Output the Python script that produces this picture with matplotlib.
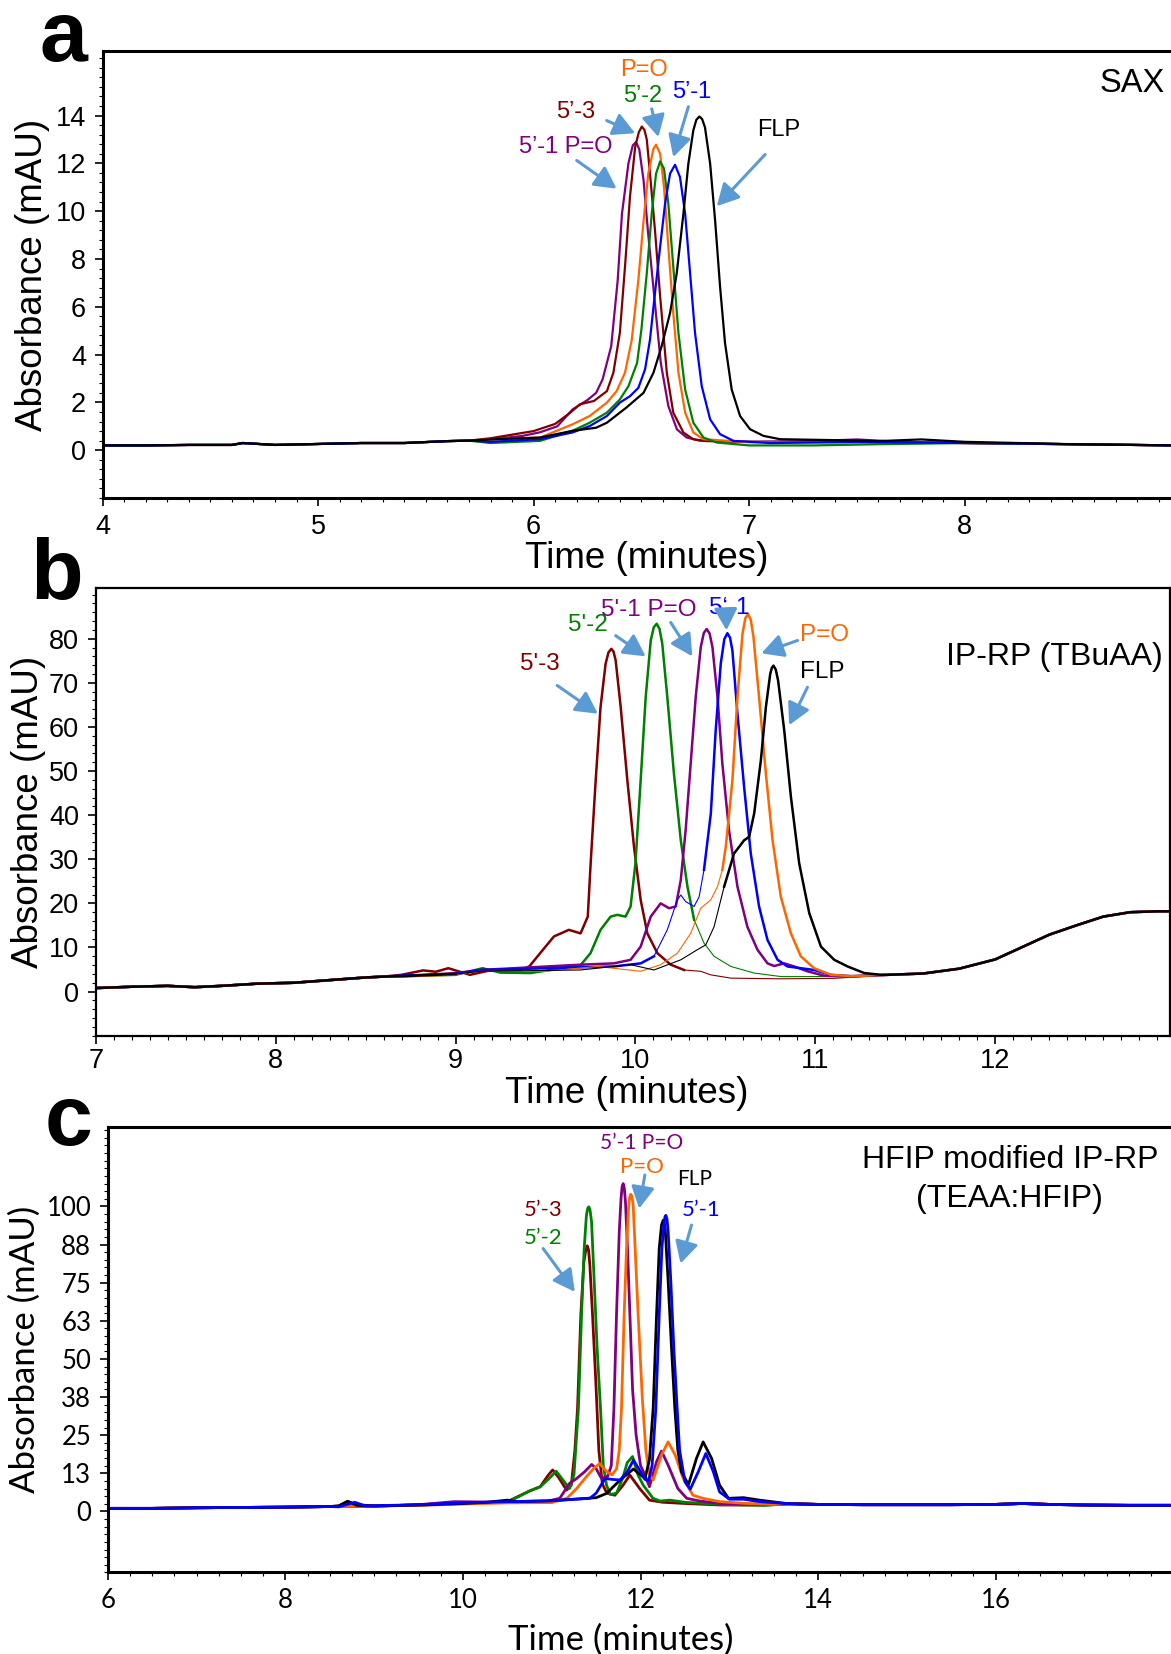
import numpy as np
import matplotlib
matplotlib.use("Agg")
import matplotlib.pyplot as plt
from matplotlib.ticker import MultipleLocator, FixedLocator, FixedFormatter

plt.rcParams['font.family'] = ['Liberation Sans', 'DejaVu Sans']

# colours of the six samples
c_red = '#800000'
c_pur = '#800080'
c_ora = '#FF6600'
c_grn = '#008000'
c_blu = '#0000FF'
c_blk = '#000000'
c_arrow = '#5B9BD5'

# ---------------- panel a : SAX ----------------
sax_base_t = [4.0, 4.2, 4.4, 4.6, 4.65, 4.8, 5.0, 5.2, 5.4, 5.6, 5.7]
sax_base = [0.2, 0.2, 0.22, 0.22, 0.3, 0.22, 0.26, 0.3, 0.3, 0.38, 0.4]

sax_pur_t = [5.80, 5.95, 6.03, 6.11, 6.18, 6.25, 6.29, 6.32, 6.36, 6.39, 6.41, 6.44, 6.46, 6.475, 6.49,
             6.51, 6.53, 6.56, 6.59, 6.625, 6.665, 6.71, 6.77, 7.0, 7.3, 7.5, 7.7, 8.0, 8.5, 8.98]
sax_pur = [0.45, 0.6, 0.75, 1.0, 1.7, 2.1, 2.4, 2.96, 4.35, 7.1, 9.9, 12.0, 12.75, 12.89, 12.6,
           11.3, 9.2, 6.4, 3.65, 1.85, 0.87, 0.53, 0.4, 0.35, 0.38, 0.45, 0.35, 0.3, 0.25, 0.2]

sax_red_t = [5.80, 5.90, 6.00, 6.10, 6.17, 6.215, 6.28, 6.34, 6.37, 6.40, 6.425, 6.447, 6.471, 6.488, 6.502,
             6.514, 6.525, 6.54, 6.563, 6.587, 6.618, 6.648, 6.695, 6.74, 6.8, 7.0, 7.5, 8.0, 8.5, 8.98]
sax_red = [0.5, 0.65, 0.8, 1.1, 1.57, 1.92, 2.06, 2.47, 3.24, 4.9, 7.8, 10.6, 12.68, 13.3, 13.54,
           13.4, 13.0, 11.57, 9.21, 6.43, 3.24, 1.57, 0.74, 0.46, 0.38, 0.35, 0.35, 0.3, 0.25, 0.2]

sax_ora_t = [5.80, 5.95, 6.03, 6.18, 6.26, 6.34, 6.385, 6.424, 6.455, 6.486, 6.509, 6.532, 6.556, 6.568,
             6.587, 6.605, 6.625, 6.648, 6.672, 6.703, 6.741, 6.788, 7.0, 7.5, 8.0, 8.5, 8.98]
sax_ora = [0.45, 0.5, 0.53, 1.08, 1.43, 1.99, 2.47, 3.24, 4.6, 7.12, 9.49, 11.57, 12.61, 12.78,
           12.4, 11.0, 8.51, 5.74, 3.24, 1.57, 0.74, 0.46, 0.33, 0.32, 0.3, 0.25, 0.2]

sax_grn_t = [5.80, 6.03, 6.18, 6.26, 6.34, 6.40, 6.44, 6.48, 6.50, 6.525, 6.548, 6.568, 6.587, 6.605,
             6.625, 6.648, 6.672, 6.703, 6.741, 6.788, 6.85, 7.0, 7.3, 7.6, 8.0, 8.5, 8.98]
sax_grn = [0.3, 0.39, 0.81, 1.15, 1.57, 2.12, 2.68, 3.65, 5.04, 7.40, 9.90, 11.57, 12.08, 11.78,
           10.32, 7.68, 4.90, 2.54, 1.15, 0.53, 0.32, 0.2, 0.2, 0.25, 0.3, 0.25, 0.2]

sax_blu_t = [5.80, 6.03, 6.18, 6.26, 6.34, 6.40, 6.447, 6.486, 6.517, 6.540, 6.563, 6.587, 6.610, 6.633,
             6.656, 6.679, 6.703, 6.726, 6.749, 6.780, 6.819, 6.865, 6.927, 7.1, 7.5, 8.0, 8.5, 8.98]
sax_blu = [0.35, 0.46, 0.74, 1.01, 1.43, 1.99, 2.26, 2.61, 3.38, 4.63, 6.57, 8.51, 10.32, 11.57,
           11.94, 11.43, 9.90, 7.40, 4.90, 2.68, 1.29, 0.67, 0.39, 0.3, 0.35, 0.3, 0.25, 0.2]

sax_blk_t = [5.80, 6.03, 6.18, 6.29, 6.34, 6.43, 6.51, 6.556, 6.594, 6.633, 6.664, 6.695, 6.718, 6.741,
             6.755, 6.769, 6.782, 6.795, 6.819, 6.842, 6.865, 6.888, 6.919, 6.958, 7.004, 7.066, 7.143,
             7.4, 7.6, 7.8, 8.0, 8.5, 8.98]
sax_blk = [0.45, 0.53, 0.81, 0.94, 1.15, 1.78, 2.40, 3.24, 4.35, 5.74, 7.40, 9.90, 11.99, 13.38,
           13.82, 13.96, 13.85, 13.51, 11.99, 9.62, 6.85, 4.49, 2.54, 1.43, 0.88, 0.60, 0.46,
           0.42, 0.38, 0.45, 0.35, 0.25, 0.2]

# ---------------- panel b : IP-RP (TBuAA) ----------------
ipr_base_t = [7.0, 7.2, 7.4, 7.55, 7.7, 7.9, 8.1, 8.3, 8.5, 8.6]
ipr_base = [0.8, 1.1, 1.3, 1.0, 1.3, 1.8, 2.0, 2.6, 3.2, 3.4]

ipr_tail_t = [11.4, 11.6, 11.8, 12.0, 12.15, 12.3, 12.45, 12.6, 12.75, 12.9, 12.97]
ipr_tail = [3.8, 4.1, 5.2, 7.3, 10.1, 12.9, 15.0, 17.0, 18.0, 18.2, 18.2]

ipr_red_t = [8.7, 8.82, 8.89, 8.96, 9.08, 9.19, 9.36, 9.41, 9.47, 9.547, 9.63, 9.695, 9.735, 9.751,
             9.779, 9.806, 9.834, 9.85, 9.866, 9.878, 9.890, 9.918, 9.955, 9.992, 10.029, 10.066, 10.122,
             10.196, 10.270, 10.363, 10.418, 10.53, 10.8, 11.1, 11.3]
ipr_red = [3.8, 4.8, 4.5, 5.3, 3.8, 4.8, 4.9, 5.7, 8.7, 12.5, 14.0, 13.2, 17.0, 29.1,
           47.9, 64.5, 74.3, 76.9, 77.7, 77.1, 75.1, 64.5, 47.9, 32.8, 20.8, 13.2, 8.7,
           6.1, 4.9, 4.6, 3.8, 3.05, 2.9, 3.0, 3.5]

ipr_grn_t = [8.7, 9.0, 9.15, 9.25, 9.417, 9.62, 9.695, 9.75, 9.806, 9.862, 9.899, 9.945, 9.973, 10.0,
             10.029, 10.057, 10.085, 10.102, 10.118, 10.134, 10.149, 10.177, 10.214, 10.252, 10.289,
             10.326, 10.381, 10.437, 10.53, 10.66, 10.81, 10.99, 11.2]
ipr_grn = [3.5, 3.8, 5.3, 4.3, 4.2, 5.5, 6.0, 8.7, 14.0, 17.0, 17.4, 17.0, 19.3, 29.1,
           47.9, 66.8, 79.6, 82.6, 83.4, 82.2, 78.9, 66.8, 49.4, 34.3, 23.8,
           16.3, 11.0, 8.0, 5.7, 4.2, 3.4, 3.4, 3.5]

ipr_pur_t = [8.7, 9.0, 9.139, 9.51, 9.695, 9.88, 9.973, 10.029, 10.085, 10.14, 10.187, 10.224, 10.252,
             10.279, 10.307, 10.335, 10.363, 10.38, 10.396, 10.412, 10.428, 10.456, 10.483, 10.52,
             10.567, 10.622, 10.678, 10.734, 10.771, 10.827, 10.882, 10.956, 11.049, 11.179, 11.3]
ipr_pur = [3.5, 4.2, 4.9, 5.7, 6.1, 6.4, 7.2, 10.2, 17.0, 20.0, 18.9, 19.3, 25.3,
           36.6, 51.7, 66.8, 78.1, 81.3, 82.2, 81.2, 78.1, 66.8, 51.7, 36.6,
           23.8, 14.7, 9.5, 6.4, 5.8, 6.4, 5.7, 4.6, 3.6, 3.4, 3.6]

ipr_blu_t = [8.7, 9.0, 9.139, 9.88, 10.029, 10.103, 10.177, 10.233, 10.252, 10.279, 10.326, 10.354,
             10.381, 10.419, 10.446, 10.474, 10.494, 10.511, 10.526, 10.539, 10.567, 10.604, 10.641,
             10.687, 10.734, 10.79, 10.845, 10.919, 10.993, 11.086, 11.2]
ipr_blu = [3.6, 4.0, 4.9, 5.7, 6.4, 8.0, 14.0, 20.8, 21.9, 20.4, 19.3, 21.5,
           27.6, 40.4, 59.2, 74.3, 79.9, 81.25, 80.2, 77.3, 63.0, 46.4, 31.3,
           19.3, 11.7, 7.2, 5.7, 5.3, 4.9, 3.8, 3.5]

ipr_ora_t = [8.7, 9.0, 9.139, 9.5, 9.788, 10.029, 10.14, 10.233, 10.307, 10.363, 10.419, 10.456, 10.483,
             10.502, 10.539, 10.567, 10.595, 10.611, 10.626, 10.641, 10.656, 10.687, 10.725, 10.762,
             10.808, 10.864, 10.919, 10.993, 11.086, 11.2]
ipr_ora = [3.4, 3.9, 4.6, 4.6, 5.7, 4.6, 6.1, 8.7, 13.2, 18.9, 20.8, 23.8, 27.6,
           32.8, 47.9, 66.8, 81.1, 84.7, 85.6, 84.3, 80.4, 66.8, 49.4, 34.3,
           21.5, 13.2, 8.0, 5.3, 3.8, 3.5]

ipr_blk_t = [8.7, 9.0, 9.139, 9.695, 9.973, 10.103, 10.252, 10.344, 10.391, 10.437, 10.493, 10.548,
             10.604, 10.632, 10.66, 10.697, 10.725, 10.749, 10.758, 10.767, 10.78, 10.793, 10.827,
             10.864, 10.91, 10.966, 11.031, 11.105, 11.179, 11.272, 11.365]
ipr_blk = [3.5, 4.0, 4.6, 4.9, 6.1, 4.9, 7.2, 9.5, 10.6, 14.7, 23.8, 31.3,
           34.3, 35.1, 40.4, 52.4, 64.5, 72.0, 73.4, 73.9, 73.0, 70.5, 59.2,
           44.2, 29.1, 17.8, 10.2, 7.2, 5.7, 4.2, 3.8]

# ---------------- panel c : HFIP modified IP-RP ----------------
hfip_base_t = [6.0, 6.5, 7.0, 7.5, 8.0, 8.5]
hfip_base = [1.0, 1.0, 1.2, 1.3, 1.4, 1.6]

hfip_tail_t = [13.7, 14.0, 14.5, 15.0, 15.5, 16.0, 16.3, 16.6, 17.0, 17.5, 18.02]
hfip_tail = [2.5, 2.3, 2.2, 2.2, 2.2, 2.3, 2.6, 2.3, 2.1, 2.0, 2.0]

hfip_red_t = [8.6, 8.7, 8.8, 9.0, 9.5, 10.0, 10.5, 10.75, 10.87, 10.96, 11.01, 11.08, 11.167, 11.22,
              11.26, 11.29, 11.327, 11.361, 11.385, 11.399, 11.414, 11.429, 11.459, 11.496, 11.53,
              11.57, 11.62, 11.711, 11.80, 11.88, 11.99, 12.10, 12.25, 12.5, 12.9, 13.4]
hfip_red = [1.8, 3.3, 2.2, 1.8, 2.0, 2.6, 3.2, 6.7, 8.1, 11.9, 13.6, 11.0, 7.0, 8.6,
            20.0, 33.8, 64.4, 81.8, 86.0, 87.1, 85.8, 80.7, 64.4, 42.5, 20.0,
            9.0, 6.0, 5.3, 8.5, 11.9, 7.5, 3.7, 3.0, 2.6, 2.1, 2.1]

hfip_grn_t = [8.6, 8.8, 9.0, 9.5, 10.0, 10.5, 10.75, 10.87, 10.96, 11.05, 11.12, 11.20, 11.25, 11.30,
              11.335, 11.365, 11.39, 11.405, 11.417, 11.43, 11.448, 11.478, 11.511, 11.549, 11.58,
              11.617, 11.66, 11.73, 11.80, 11.85, 11.91, 11.97, 12.03, 12.14, 12.22, 12.33, 12.5,
              12.9, 13.4]
hfip_grn = [1.6, 1.7, 1.7, 2.2, 2.7, 3.0, 6.7, 8.1, 10.5, 13.2, 10.5, 7.5, 12.0, 33.8,
            64.4, 86.2, 97.1, 99.4, 99.9, 99.0, 95.0, 75.3, 53.4, 33.8, 15.2,
            8.6, 5.5, 6.0, 11.0, 16.0, 18.0, 12.0, 8.6, 4.3, 3.4, 3.7, 3.0,
            2.3, 2.0]

hfip_pur_t = [8.6, 9.0, 9.5, 9.9, 10.5, 10.9, 11.09, 11.20, 11.28, 11.37, 11.45, 11.50, 11.56, 11.63,
              11.67, 11.70, 11.729, 11.76, 11.78, 11.792, 11.804, 11.817, 11.83, 11.853, 11.88, 11.91,
              11.95, 12.0, 12.05, 12.10, 12.18, 12.236, 12.31, 12.42, 12.52, 12.67, 12.9, 13.4]
hfip_pur = [1.6, 1.7, 2.2, 3.2, 3.0, 3.0, 4.3, 9.2, 10.8, 13.0, 15.4, 14.0, 10.8, 11.5,
            15.0, 33.8, 64.4, 91.7, 102.6, 106.5, 107.5, 106.0, 101.5, 86.2, 64.4, 40.0,
            25.0, 15.0, 11.9, 8.1, 16.3, 19.8, 15.2, 7.5, 4.3, 3.4, 2.6, 2.2]

hfip_ora_t = [8.6, 9.0, 9.5, 10.0, 10.5, 11.0, 11.17, 11.28, 11.39, 11.47, 11.54, 11.62, 11.68, 11.73,
              11.76, 11.785, 11.815, 11.842, 11.864, 11.877, 11.89, 11.903, 11.917, 11.939, 11.973,
              12.02, 12.06, 12.10, 12.142, 12.236, 12.31, 12.39, 12.48, 12.59, 12.70, 12.89, 13.2, 13.5]
hfip_ora = [1.6, 1.8, 2.0, 2.4, 2.8, 2.9, 4.3, 7.5, 11.4, 14.0, 15.7, 13.0, 12.0, 14.0,
            20.0, 33.8, 64.4, 86.2, 99.3, 103.0, 104.0, 103.2, 100.4, 86.2, 64.4,
            37.0, 20.0, 12.0, 10.3, 18.5, 22.8, 18.5, 10.8, 5.3, 4.3, 3.2, 2.6, 2.3]

hfip_blu_t = [8.6, 8.78, 8.9, 9.5, 10.0, 10.5, 11.0, 11.43, 11.50, 11.60, 11.68, 11.77, 11.85, 11.92,
              11.98, 12.05, 12.09, 12.13, 12.172, 12.21, 12.24, 12.266, 12.275, 12.285, 12.298,
              12.311, 12.341, 12.375, 12.412, 12.44, 12.50, 12.56, 12.65, 12.735, 12.82, 12.89, 13.0,
              13.16, 13.34, 13.64]
hfip_blu = [1.5, 3.0, 1.8, 2.2, 2.8, 3.2, 3.5, 4.3, 6.0, 10.8, 10.5, 10.3, 13.0, 16.8,
            14.0, 10.5, 10.0, 15.0, 33.8, 64.4, 86.2, 95.0, 96.6, 97.1, 95.8,
            91.7, 75.3, 53.4, 33.8, 20.0, 9.7, 7.3, 13.0, 19.0, 13.0, 6.4, 4.0,
            4.0, 3.2, 2.6]

hfip_blk_t = [8.6, 8.7, 8.8, 9.0, 9.5, 10.0, 10.27, 10.5, 10.6, 11.0, 11.5, 11.617, 11.77, 11.92, 12.05,
              12.10, 12.142, 12.18, 12.21, 12.236, 12.255, 12.266, 12.277, 12.311, 12.349, 12.386,
              12.42, 12.46, 12.54, 12.63, 12.705, 12.80, 12.89, 12.99, 13.16, 13.34, 13.64]
hfip_blk = [1.8, 3.3, 2.0, 1.8, 2.1, 2.6, 3.0, 3.7, 3.2, 3.5, 4.5, 5.9, 10.3, 13.9, 10.8,
            17.0, 33.8, 64.4, 86.2, 93.9, 95.5, 94.8, 92.8, 75.3, 53.4, 33.8,
            20.0, 13.0, 8.8, 17.4, 22.8, 17.4, 8.6, 4.3, 4.5, 3.7, 2.6]

hfip_xticks = [6, 8, 10, 12, 14, 16]
hfip_yticks = [0, 12.5, 25, 37.5, 50, 62.5, 75, 87.5, 100]
hfip_ylabels = ['0', '13', '25', '38', '50', '63', '75', '88', '100']

W, H = 1171, 1654
fig = plt.figure(figsize=(W / 100, H / 100), dpi=100)


def box(left, top, right, bottom):
    return [left / W, 1 - bottom / H, (right - left) / W, (bottom - top) / H]


def join(bt, by, t, y, tt=None, ty=None):
    t = list(bt) + list(t) + (list(tt) if tt else [])
    y = list(by) + list(y) + (list(ty) if ty else [])
    return np.array(t), np.array(y)


def arrow(ax, tail, tip):
    ax.annotate('', xy=tip, xytext=tail,
                arrowprops=dict(arrowstyle='-|>,head_length=0.6,head_width=0.32',
                                color=c_arrow, lw=2.2, mutation_scale=22,
                                shrinkA=0, shrinkB=0))


# ================= panel a =================
ax1 = fig.add_axes(box(102.6, 51, 1175, 498))
for t, y, c in [(sax_pur_t, sax_pur, c_pur), (sax_red_t, sax_red, c_red), (sax_ora_t, sax_ora, c_ora),
                (sax_grn_t, sax_grn, c_grn), (sax_blu_t, sax_blu, c_blu), (sax_blk_t, sax_blk, c_blk)]:
    tt, yy = join(sax_base_t, sax_base, t, y)
    ax1.plot(tt, yy, color=c, lw=1.6)
ax1.set_xlim(4.0, 8.976)
ax1.set_ylim(-2.0, 16.7)
ax1.set_yticks(range(0, 15, 2))
ax1.yaxis.set_minor_locator(MultipleLocator(0.4))
ax1.xaxis.set_major_locator(MultipleLocator(1))
ax1.xaxis.set_minor_locator(MultipleLocator(0.1))
ax1.set_xlabel('Time (minutes)', fontsize=26.5)
ax1.xaxis.set_label_coords(0.507, -0.097)
ax1.set_ylabel('Absorbance (mAU)', fontsize=26.5, labelpad=4)
ax1.tick_params(labelsize=19.5)

fs_a = 17
ax1.text(6.512, 15.9, 'P=O', color=c_ora, fontsize=fs_a, ha='center', va='center')
ax1.text(6.508, 14.8, '5\u2019-2', color=c_grn, fontsize=fs_a, ha='center', va='center')
ax1.text(6.733, 15.0, '5\u2019-1', color=c_blu, fontsize=fs_a, ha='center', va='center')
ax1.text(6.197, 14.14, '5\u2019-3', color=c_red, fontsize=fs_a, ha='center', va='center')
ax1.text(6.15, 12.67, '5\u2019-1 P=O', color=c_pur, fontsize=fs_a, ha='center', va='center')
ax1.text(7.136, 13.4, 'FLP', color=c_blk, fontsize=fs_a, ha='center', va='center')
ax1.text(8.775, 15.36, 'SAX', fontsize=23.5, ha='center', va='center')
arrow(ax1, (6.339, 13.79), (6.471, 13.26))
arrow(ax1, (6.548, 14.28), (6.579, 13.1))
arrow(ax1, (6.718, 14.37), (6.648, 12.26))
arrow(ax1, (6.200, 12.12), (6.385, 10.94))
arrow(ax1, (7.074, 12.37), (6.850, 10.21))

# ================= panel b =================
ax2 = fig.add_axes(box(95.7, 588, 1169.8, 1035.7))
thick_b = {
    'red': lambda t: t <= 10.36,
    'grn': lambda t: t <= 10.36,
    'pur': lambda t: t > 0,
    'blu': lambda t: (t <= 10.15) | (t >= 10.38),
    'ora': lambda t: (t <= 9.0) | (t >= 10.47),
    'blk': lambda t: (t <= 9.0) | (t >= 10.45),
}
for key, t, y, c in [('red', ipr_red_t, ipr_red, c_red), ('grn', ipr_grn_t, ipr_grn, c_grn),
                     ('pur', ipr_pur_t, ipr_pur, c_pur), ('blu', ipr_blu_t, ipr_blu, c_blu),
                     ('ora', ipr_ora_t, ipr_ora, c_ora), ('blk', ipr_blk_t, ipr_blk, c_blk)]:
    tt, yy = join(ipr_base_t, ipr_base, t, y, ipr_tail_t, ipr_tail)
    ax2.plot(tt, yy, color=c, lw=0.8)
    ax2.plot(tt, np.where(thick_b[key](tt), yy, np.nan), color=c, lw=1.8)
ax2.set_xlim(7.0, 12.97)
ax2.set_ylim(-10, 91.5)
ax2.set_yticks(range(0, 81, 10))
ax2.yaxis.set_minor_locator(MultipleLocator(2))
ax2.xaxis.set_major_locator(MultipleLocator(1))
ax2.xaxis.set_minor_locator(MultipleLocator(0.1))
ax2.set_xlabel('Time (minutes)', fontsize=26.5)
ax2.xaxis.set_label_coords(0.494, -0.089)
ax2.set_ylabel('Absorbance (mAU)', fontsize=26.5, labelpad=2)
ax2.tick_params(labelsize=19.5)

fs_b = 17.5
ax2.text(9.471, 74.3, "5'-3", color=c_red, fontsize=fs_b, ha='center', va='center')
ax2.text(9.736, 83.2, "5'-2", color=c_grn, fontsize=fs_b, ha='center', va='center')
ax2.text(10.075, 86.5, "5'-1 P=O", color=c_pur, fontsize=fs_b, ha='center', va='center')
ax2.text(10.52, 86.9, '5\u2018-1', color=c_blu, fontsize=fs_b, ha='center', va='center')
ax2.text(11.053, 80.95, 'P=O', color=c_ora, fontsize=fs_b, ha='center', va='center')
ax2.text(11.038, 72.4, 'FLP', color=c_blk, fontsize=fs_b, ha='center', va='center')
ax2.text(0.993, 0.845, 'IP-RP (TBuAA)', transform=ax2.transAxes, fontsize=23, ha='right', va='center')
arrow(ax2, (9.565, 69.4), (9.791, 63.0))
arrow(ax2, (9.890, 80.7), (10.057, 76.0))
arrow(ax2, (10.196, 83.7), (10.316, 76.0))
arrow(ax2, (10.503, 85.2), (10.506, 81.9))
arrow(ax2, (10.901, 79.6), (10.700, 76.7))
arrow(ax2, (10.956, 69.0), (10.854, 60.4))

# ================= panel c =================
ax3 = fig.add_axes(box(107.9, 1127.2, 1175, 1572.4))
for t, y, c in [(hfip_red_t, hfip_red, c_red), (hfip_grn_t, hfip_grn, c_grn), (hfip_pur_t, hfip_pur, c_pur),
                (hfip_ora_t, hfip_ora, c_ora), (hfip_blk_t, hfip_blk, c_blk), (hfip_blu_t, hfip_blu, c_blu)]:
    tt, yy = join(hfip_base_t, hfip_base, t, y, hfip_tail_t, hfip_tail)
    ax3.plot(tt, yy, color=c, lw=2.0)
ax3.set_xlim(6.0, 18.02)
ax3.set_ylim(-20, 126)
ax3.xaxis.set_major_locator(FixedLocator(hfip_xticks))
ax3.yaxis.set_major_locator(FixedLocator(hfip_yticks))
ax3.yaxis.set_major_formatter(FixedFormatter(hfip_ylabels))
ax3.yaxis.set_minor_locator(MultipleLocator(2.5))
ax3.xaxis.set_minor_locator(MultipleLocator(0.25))
ax3.set_xlabel('Time (minutes)', fontsize=25, family='Lato')
ax3.xaxis.set_label_coords(0.481, -0.114)
ax3.set_ylabel('Absorbance (mAU)', fontsize=25, family='Lato', labelpad=4)
ax3.tick_params(labelsize=18.5)
for lab in ax3.get_xticklabels() + ax3.get_yticklabels():
    lab.set_family('Lato')

ax3.text(10.903, 98.8, '5\u2019-3', color=c_red, fontsize=16, family='Lato', ha='center', va='center')
ax3.text(10.903, 89.5, '5\u2019-2', color=c_grn, fontsize=16, family='Lato', ha='center', va='center')
ax3.text(12.011, 120.8, '5\u2019-1 P=O', color=c_pur, fontsize=15, family='Lato', ha='center', va='center')
ax3.text(12.014, 112.8, 'P=O', color=c_ora, fontsize=16, family='Lato', ha='center', va='center')
ax3.text(12.611, 108.9, 'FLP', color=c_blk, fontsize=15, family='Lato', ha='center', va='center')
ax3.text(12.683, 98.8, '5\u2019-1', color=c_blu, fontsize=16, family='Lato', ha='center', va='center')
ax3.text(16.16, 115.4, 'HFIP modified IP-RP', fontsize=23, ha='center', va='center')
ax3.text(16.16, 102.4, '(TEAA:HFIP)', fontsize=23, ha='center', va='center')
arrow(ax3, (10.903, 86.2), (11.260, 72.0))
arrow(ax3, (12.048, 110.3), (11.984, 99.3))
arrow(ax3, (12.574, 93.9), (12.450, 81.3))

for ax, lw, xpad in [(ax1, 2.2, 5.2), (ax2, 1.6, 2.5), (ax3, 2.2, 5.2)]:
    for s in ax.spines.values():
        s.set_linewidth(lw)
    ax.tick_params(which='major', direction='out', length=6, width=1.2, pad=6)
    ax.tick_params(which='minor', direction='out', length=3, width=0.8)
    ax.tick_params(axis='x', which='major', pad=xpad)

fig.text(40 / W, 1 - 61 / H, 'a', fontsize=62, fontweight='bold', ha='left', va='baseline')
fig.text(30 / W, 1 - 599 / H, 'b', fontsize=62, fontweight='bold', ha='left', va='baseline')
fig.text(45 / W, 1 - 1145 / H, 'c', fontsize=62, fontweight='bold', ha='left', va='baseline')

fig.savefig('out.png', dpi=100)
